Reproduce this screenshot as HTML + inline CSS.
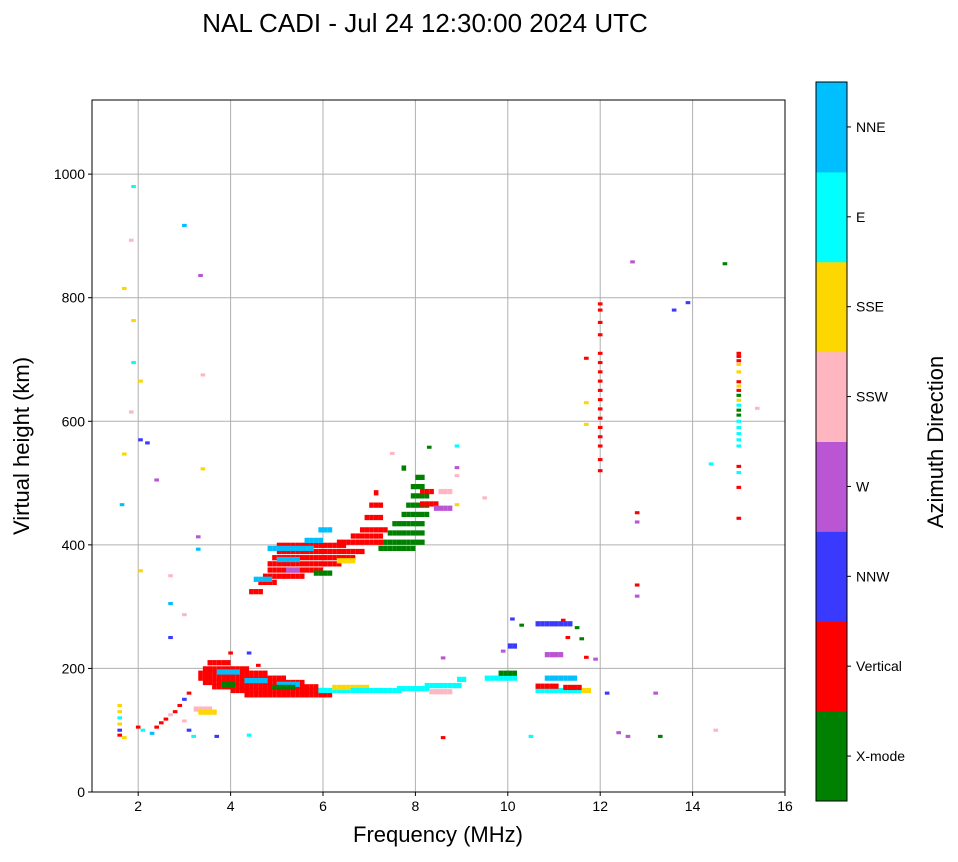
<!DOCTYPE html>
<html><head><meta charset="utf-8"><style>
body{margin:0;background:#fff;font-family:"Liberation Sans","DejaVu Sans",sans-serif;}
svg text{font-family:"Liberation Sans","DejaVu Sans",sans-serif;}
</style></head><body>
<svg id="chart" width="958" height="857" viewBox="0 0 958 857" xmlns="http://www.w3.org/2000/svg">
<text x="425" y="32" font-size="26" text-anchor="middle">NAL CADI - Jul 24 12:30:00 2024 UTC</text>
<g id="grid"></g>
<g id="marks"></g>
<g id="axes"></g>
<g id="cbar"></g>
<text x="438" y="842" font-size="22" text-anchor="middle">Frequency (MHz)</text>
<text transform="translate(29,446) rotate(-90)" font-size="22" text-anchor="middle">Virtual height (km)</text>
<text transform="translate(943,442) rotate(-90)" font-size="22" text-anchor="middle">Azimuth Direction</text>
</svg>
<script>
const categories = ["X-mode","Vertical","NNW","W","SSW","SSE","E","NNE"];
const catColors = ["#008000","#ff0000","#3a3aff","#ba55d3","#ffb6c1","#ffd700","#00ffff","#00bfff"];
const xTicks = [2,4,6,8,10,12,14,16];
const yTicks = [0,200,400,600,800,1000];
// runs: [freqStart, freqEnd, height, category]
const runs = [
[3.5,4.0,205,1],[3.4,4.4,195,1],[3.3,4.8,188,1],[3.3,5.2,180,1],[3.4,5.6,173,1],[3.6,5.9,166,1],[4.0,6.0,160,1],[4.3,6.2,153,1],
[3.7,4.2,190,7],[4.3,4.8,176,7],[5.0,5.5,170,7],[4.9,5.4,165,0],[3.8,4.1,170,0],[5.9,6.6,160,6],[6.2,7.0,165,5],[6.6,7.7,160,6],
[7.6,8.3,163,6],[8.2,9.0,168,6],[8.3,8.8,158,4],[8.9,9.1,178,6],[3.2,3.6,130,4],[3.3,3.7,125,5],
[4.4,4.7,320,1],[4.6,5.0,335,1],[4.7,5.6,345,1],[4.8,6.0,355,1],[4.8,6.4,365,1],[4.9,6.7,375,1],[5.0,6.9,385,1],[5.0,6.5,395,1],
[6.3,7.3,400,1],[6.6,7.3,410,1],[6.8,7.4,420,1],[6.9,7.3,440,1],[7.0,7.3,460,1],[7.1,7.2,480,1],
[4.8,5.8,390,7],[5.0,5.5,372,7],[5.6,6.0,403,7],[4.5,4.9,340,7],[5.9,6.2,420,7],[5.2,5.5,355,3],[6.3,6.7,370,5],[5.8,6.2,350,0],
[7.2,8.0,390,0],[7.3,8.2,400,0],[7.4,8.2,415,0],[7.5,8.2,430,0],[7.7,8.3,445,0],[7.8,8.3,460,0],[7.9,8.3,475,0],[7.9,8.2,490,0],[8.0,8.2,505,0],[7.7,7.8,520,0],
[8.1,8.5,462,1],[8.1,8.4,482,1],[8.5,8.8,482,4],[8.4,8.8,455,3],
[10.6,11.6,160,6],[10.6,11.1,167,1],[10.8,11.5,180,7],[11.2,11.6,165,1],[9.5,10.2,180,6],[9.8,10.2,188,0],[10.6,11.4,268,2],[10.0,10.2,232,2],[10.8,11.2,218,3],[11.6,11.8,160,5]
];
// points: [freq, height, category]
const points = [
[1.6,140,5],[1.6,130,5],[1.6,120,6],[1.6,110,5],[1.6,100,2],[1.6,92,1],[1.7,88,5],[1.9,980,6],[1.85,893,4],[1.7,815,5],[1.9,763,5],[1.9,695,6],[2.05,665,5],[1.85,615,4],
[1.7,547,5],[1.65,465,7],[2.05,570,2],[2.2,565,2],[2.4,505,3],[2.05,358,5],[2.7,350,4],[2.7,305,7],[3.0,287,4],[2.7,250,2],[3.0,917,7],[3.35,836,3],[3.4,675,4],[3.4,523,5],[3.3,413,3],[3.3,393,7],
[2.0,105,1],[2.1,100,6],[2.3,95,7],[2.4,105,1],[2.5,112,1],[2.6,118,1],[2.7,125,4],[2.8,130,1],[2.9,140,1],[3.0,150,2],[3.1,160,1],[3.0,115,4],[3.1,100,2],[3.2,90,6],[3.7,90,2],[4.4,92,6],[4.4,225,2],[4.0,225,1],[4.6,205,1],
[8.3,558,0],[8.9,560,6],[8.9,525,3],[8.9,512,4],[8.9,465,5],[9.5,476,4],[7.5,548,4],[8.6,88,1],[8.6,217,3],[9.9,228,3],[10.1,280,2],[10.3,270,0],[11.2,278,1],[11.3,250,1],[11.5,266,0],[11.6,248,0],[11.7,218,1],[11.9,215,3],[12.15,160,2],
[10.5,90,6],[12.4,96,3],[12.6,90,3],[13.3,90,0],[14.5,100,4],[13.2,160,3],[12.8,452,1],[12.8,437,3],[12.8,335,1],[12.8,317,3],[12.7,858,3],[13.6,780,2],[13.9,792,2],[14.7,855,0],[14.4,531,6],[15.4,621,4],[11.7,702,1],[11.7,630,5],[11.7,595,5],
[12,520,1],[12,538,1],[12,560,1],[12,575,1],[12,590,1],[12,605,1],[12,620,1],[12,635,1],[12,650,1],[12,665,1],[12,680,1],[12,695,1],[12,710,1],[12,740,1],[12,760,1],[12,780,1],[12,790,1],
[15,443,1],[15,493,1],[15,517,6],[15,527,1],[15,560,6],[15,570,6],[15,580,6],[15,590,6],[15,600,6],[15,610,0],[15,618,0],[15,626,6],[15,634,5],[15,642,0],[15,650,1],[15,657,5],[15,664,1],[15,680,5],[15,692,5],[15,698,1],[15,705,1],[15,710,1]
];
const L=92,R=785,T=100,B=792;
const xS=f=>L+(f-1)/(16-1)*(R-L);
const yS=h=>B-h/1120*(B-T);
const NS="http://www.w3.org/2000/svg";
function mk(tag,at,parent){const e=document.createElementNS(NS,tag);for(const k in at)e.setAttribute(k,at[k]);parent.appendChild(e);return e;}
const grid=document.getElementById('grid'),marks=document.getElementById('marks'),axes=document.getElementById('axes'),cbar=document.getElementById('cbar');
xTicks.forEach(t=>{const l=mk('line',{x1:xS(t),x2:xS(t),y1:T,y2:B,stroke:'#b0b0b0','stroke-width':1},grid);


mk('line',{x1:xS(t),x2:xS(t),y1:B,y2:B+4,stroke:'#000'},axes);
const tx=mk('text',{x:xS(t),y:B+19,'font-size':14,'text-anchor':'middle'},axes);tx.textContent=t;

});
yTicks.forEach(t=>{const l=mk('line',{x1:L,x2:R,y1:yS(t),y2:yS(t),stroke:'#b0b0b0','stroke-width':1},grid);


mk('line',{x1:L-4,x2:L,y1:yS(t),y2:yS(t),stroke:'#000'},axes);
const tx=mk('text',{x:L-7,y:yS(t)+5,'font-size':14,'text-anchor':'end'},axes);tx.textContent=t;

});
const fr=mk('rect',{x:L,y:T,width:R-L,height:B-T,fill:'none',stroke:'#000'},axes);


const cw=0.1,ch=5,rch=8.5;
runs.forEach(r=>{for(let f=r[0];f<r[1]-1e-6;f+=cw){const c=mk('rect',{x:xS(f),y:yS(r[2]+rch),width:xS(f+cw)-xS(f),height:yS(0)-yS(rch),fill:catColors[r[3]]},marks);

}});
points.forEach(p=>{const c=mk('rect',{x:xS(p[0]-cw/2),y:yS(p[1]+ch/2),width:xS(cw)-xS(0),height:yS(0)-yS(ch),fill:catColors[p[2]]},marks);

});
const cx=816,cwid=31,cT=82,cB=801,seg=(cB-cT)/categories.length;
categories.forEach((n,i)=>{const y0=cB-(i+1)*seg;
const r=mk('rect',{x:cx,y:y0,width:cwid,height:seg+0.5,fill:catColors[i]},cbar);


mk('line',{x1:cx+cwid,x2:cx+cwid+4,y1:y0+seg/2,y2:y0+seg/2,stroke:'#000'},cbar);
const t=mk('text',{x:856,y:y0+seg/2+5,'font-size':14},cbar);t.textContent=n;

});
mk('rect',{x:cx,y:cT,width:cwid,height:cB-cT,fill:'none',stroke:'#000'},cbar);
</script>
</body></html>
